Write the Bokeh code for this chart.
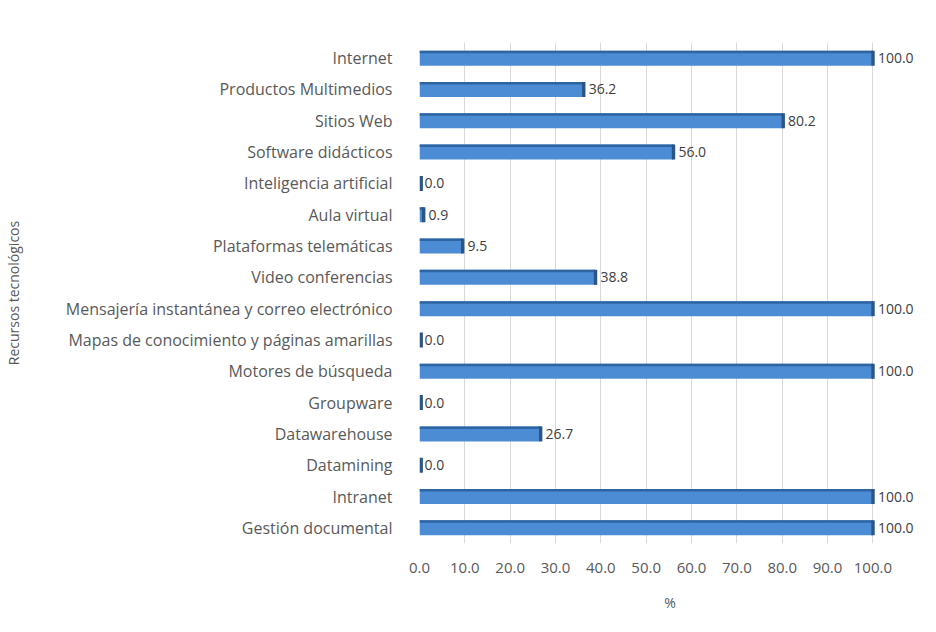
from bokeh.plotting import figure
from bokeh.models import ColumnDataSource, FixedTicker, NumeralTickFormatter, LabelSet
from bokeh.core.properties import value
from bokeh.embed import file_html
from bokeh.resources import INLINE

categories = [
    "Internet",
    "Productos Multimedios",
    "Sitios Web",
    "Software didácticos",
    "Inteligencia artificial",
    "Aula virtual",
    "Plataformas telemáticas",
    "Video conferencias",
    "Mensajería instantánea y correo electrónico",
    "Mapas de conocimiento y páginas amarillas",
    "Motores de búsqueda",
    "Groupware",
    "Datawarehouse",
    "Datamining",
    "Intranet",
    "Gestión documental",
]
values = [100.0, 36.2, 80.2, 56.0, 0.0, 0.9, 9.5, 38.8, 100.0, 0.0, 100.0, 0.0, 26.7, 0.0, 100.0, 100.0]
x_ticks = [0, 10, 20, 30, 40, 50, 60, 70, 80, 90, 100]

n = len(categories)
ypos = [n - 1 - i for i in range(n)]
h = 0.48
src = ColumnDataSource(dict(
    y=ypos, v=values, lab=[f"{v:.1f}" for v in values],
    ytop=[y + h / 2 - 0.04 for y in ypos],
    capl=[max(v - 0.35, 0) for v in values],
    capr=[max(v - 0.35, 0) + 0.75 for v in values],
))

FONT = "Open Sans"
p = figure(width=920, height=616, output_backend="svg", toolbar_location=None,
           x_range=(0, 110.5), y_range=(-0.5, n - 0.5),
           min_border_left=410, min_border_right=0, min_border_top=42, min_border_bottom=73)
p.outline_line_color = None
p.background_fill_color = "white"

# main bar
p.hbar(y="y", left=0, right="v", height=h, source=src,
       fill_color="#4C8CD5", line_color=None)
# darker top edge (3D look)
p.hbar(y="ytop", left=0, right="v", height=0.08, source=src,
       fill_color="#2F64A3", line_color=None)
# darker right end cap
p.hbar(y="y", left="capl", right="capr", height=h, source=src,
       fill_color="#2C5587", line_color=None)

labels = LabelSet(x="v", y="y", text="lab", source=src, x_offset=5, y_offset=0,
                  text_baseline="middle", text_font=value(FONT), text_font_size="14px",
                  text_color="#404040")
p.add_layout(labels)

p.xaxis.ticker = FixedTicker(ticks=x_ticks)
p.xaxis.formatter = NumeralTickFormatter(format="0.0")
p.xaxis.axis_label = "%"
p.xaxis.axis_line_color = None
p.xaxis.major_tick_line_color = None
p.xaxis.minor_tick_line_color = None
p.xaxis.major_label_standoff = 13
p.xaxis.axis_label_standoff = 17
p.xaxis.major_label_text_font = FONT
p.xaxis.major_label_text_font_size = "15px"
p.xaxis.major_label_text_color = "#595959"
p.xaxis.axis_label_text_font = FONT
p.xaxis.axis_label_text_font_size = "14px"
p.xaxis.axis_label_text_font_style = "normal"
p.xaxis.axis_label_text_color = "#595959"

p.yaxis.ticker = FixedTicker(ticks=ypos)
p.yaxis.major_label_overrides = {y: c for y, c in zip(ypos, categories)}
p.yaxis.axis_label = "Recursos tecnológicos"
p.yaxis.axis_line_color = None
p.yaxis.major_tick_line_color = None
p.yaxis.minor_tick_line_color = None
p.yaxis.major_label_standoff = 21
p.yaxis.axis_label_standoff = 40
p.yaxis.major_label_text_font = FONT
p.yaxis.major_label_text_font_size = "16px"
p.yaxis.major_label_text_color = "#595959"
p.yaxis.axis_label_text_font = FONT
p.yaxis.axis_label_text_font_size = "14px"
p.yaxis.axis_label_text_font_style = "normal"
p.yaxis.axis_label_text_color = "#595959"

p.xgrid.grid_line_color = "#D9D9D9"
p.ygrid.grid_line_color = None

open("out.html", "w").write(file_html(p, INLINE))
